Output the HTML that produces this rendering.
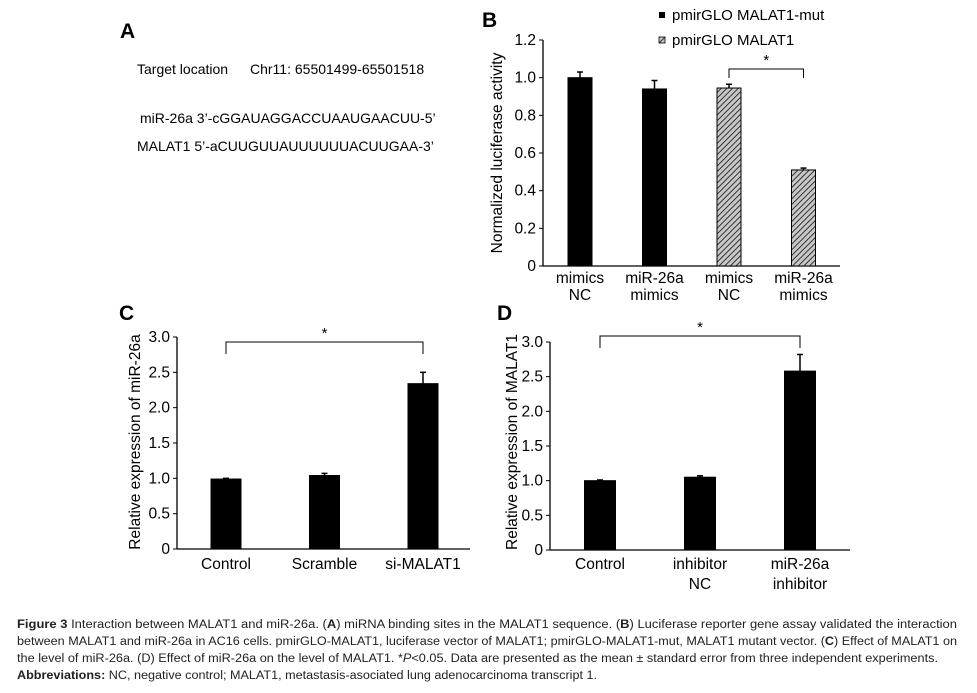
<!DOCTYPE html>
<html><head><meta charset="utf-8"><style>
html,body{margin:0;padding:0;background:#fff;}
svg{display:block;font-family:"Liberation Sans",Arial,sans-serif;}
</style></head><body>
<svg id="fig" width="977" height="693" viewBox="0 0 977 693" xmlns="http://www.w3.org/2000/svg">
<defs>
<pattern id="hatch" width="4" height="4" patternUnits="userSpaceOnUse" patternTransform="rotate(45)">
<rect width="4" height="4" fill="#c8c8c8"/><line x1="0" y1="0" x2="0" y2="4" stroke="#222" stroke-width="1.8"/>
</pattern>
</defs>
<g>
<text x="120" y="38" font-size="21" font-weight="bold">A</text>
<text x="137" y="74" font-size="14">Target location</text>
<text x="250" y="74" font-size="14">Chr11: 65501499-65501518</text>
<text x="140" y="123" font-size="14">miR-26a 3’-cGGAUAGGACCUAAUGAACUU-5’</text>
<text x="137" y="151" font-size="14">MALAT1 5’-aCUUGUUAUUUUUUACUUGAA-3’</text>
</g>
<g id="pB"></g>
<g id="pC"></g>
<g id="pD"></g>
<g font-size="11.5" fill="#222">
<text x="17" y="628" textLength="940" lengthAdjust="spacingAndGlyphs"><tspan font-weight="bold">Figure 3</tspan> Interaction between MALAT1 and miR-26a. (<tspan font-weight="bold">A</tspan>) miRNA binding sites in the MALAT1 sequence. (<tspan font-weight="bold">B</tspan>) Luciferase reporter gene assay validated the interaction</text>
<text x="17" y="645" textLength="940" lengthAdjust="spacingAndGlyphs">between MALAT1 and miR-26a in AC16 cells. pmirGLO-MALAT1, luciferase vector of MALAT1; pmirGLO-MALAT1-mut, MALAT1 mutant vector. (<tspan font-weight="bold">C</tspan>) Effect of MALAT1 on</text>
<text x="17" y="662" textLength="921" lengthAdjust="spacingAndGlyphs">the level of miR-26a. (D) Effect of miR-26a on the level of MALAT1. *<tspan font-style="italic">P</tspan>&lt;0.05. Data are presented as the mean ± standard error from three independent experiments.</text>
<text x="17" y="679" textLength="580" lengthAdjust="spacingAndGlyphs"><tspan font-weight="bold">Abbreviations:</tspan> NC, negative control; MALAT1, metastasis-asociated lung adenocarcinoma transcript 1.</text>
</g>
</svg>
<script>
// Panel B data
const bCategories = [["mimics","NC"],["miR-26a","mimics"],["mimics","NC"],["miR-26a","mimics"]];
const bValues = [1.0, 0.94, 0.945, 0.51];
const bErrors = [0.03, 0.045, 0.02, 0.01];
const bSeries = ["mut","mut","wt","wt"];
const bTicks = ["0","0.2","0.4","0.6","0.8","1.0","1.2"];
const bTickValues = [0,0.2,0.4,0.6,0.8,1.0,1.2];
// Panel C data
const cCategories = [["Control"],["Scramble"],["si-MALAT1"]];
const cValues = [0.99, 1.04, 2.34];
const cErrors = [0.01, 0.03, 0.16];
const cTicks = ["0","0.5","1.0","1.5","2.0","2.5","3.0"];
const cTickValues = [0,0.5,1,1.5,2,2.5,3];
// Panel D data
const dCategories = [["Control"],["inhibitor","NC"],["miR-26a","inhibitor"]];
const dValues = [1.0, 1.05, 2.58];
const dErrors = [0.01, 0.02, 0.24];
const dTicks = ["0","0.5","1.0","1.5","2.0","2.5","3.0"];
const dTickValues = [0,0.5,1,1.5,2,2.5,3];

const NS="http://www.w3.org/2000/svg";
function mk(parent,tag,attrs,txt){const e=document.createElementNS(NS,tag);for(const k in attrs)e.setAttribute(k,attrs[k]);if(txt!==undefined)e.textContent=txt;parent.appendChild(e);return e;}

function drawPanel(g,cfg){
  const y=v=>cfg.y0-(v/cfg.ymax)*(cfg.y0-cfg.ytop);
  const x=i=>cfg.x0+cfg.first+i*cfg.step;
  const axY=mk(g,'line',{x1:cfg.x0,y1:cfg.ytop,x2:cfg.x0,y2:cfg.y0,stroke:'#000','stroke-width':1.3});
  
  
  const axX=mk(g,'line',{x1:cfg.x0,y1:cfg.y0,x2:cfg.x1,y2:cfg.y0,stroke:'#000','stroke-width':1.3});
  
  
  cfg.tickValues.forEach((tv,i)=>{
    const t=mk(g,'line',{x1:cfg.x0-4,y1:y(tv),x2:cfg.x0,y2:y(tv),stroke:'#000','stroke-width':1});
    
    
    const l=mk(g,'text',{x:cfg.x0-7,y:y(tv)+5,'font-size':15.5,'text-anchor':'end'},cfg.ticks[i]);
    
    
  });
  const tt=mk(g,'text',{x:0,y:0,'font-size':15.5,'text-anchor':'middle',transform:`translate(${cfg.titleX},${cfg.titleY}) rotate(-90)`},cfg.title);
  
  
  cfg.values.forEach((v,i)=>{
    const cx=x(i);
    const fill=(cfg.series&&cfg.series[i]==='wt')?'url(#hatch)':'#000';
    const b=mk(g,'rect',{x:cx-cfg.bw/2,y:y(v),width:cfg.bw,height:cfg.y0-y(v),fill:fill,stroke:'#000','stroke-width':1});
    
    
    const ye=y(v+cfg.errors[i]);
    const e1=mk(g,'line',{x1:cx,y1:y(v),x2:cx,y2:ye,stroke:'#000','stroke-width':1.5});
    
    
    const e2=mk(g,'line',{x1:cx-3,y1:ye,x2:cx+3,y2:ye,stroke:'#000','stroke-width':1.5});
    
    
    cfg.cats[i].forEach((s,j)=>{
      const l=mk(g,'text',{x:cx,y:cfg.labelY+j*cfg.labelDy,'font-size':15.5,'text-anchor':'middle'},s);
      
      
    });
  });
  const [a,b2]=cfg.sig;
  const br=mk(g,'path',{d:`M${x(a)},${cfg.sigY+cfg.sigDrop} V${cfg.sigY} H${x(b2)} V${cfg.sigY+cfg.sigDrop}`,fill:'none',stroke:'#000','stroke-width':1});
  
  
  const st=mk(g,'text',{x:(x(a)+x(b2))/2,y:cfg.sigY-4,'font-size':15,'text-anchor':'middle'},'*');
  
  
  const pl=mk(g,'text',{x:cfg.letterX,y:cfg.letterY,'font-size':21,'font-weight':'bold'},cfg.letter);
  
  
}

drawPanel(document.getElementById('pB'),{x0:543,x1:840,ytop:40,y0:266,ymax:1.2,first:37,step:74.5,bw:24,
  values:bValues,errors:bErrors,series:bSeries,cats:bCategories,ticks:bTicks,tickValues:bTickValues,
  title:'Normalized luciferase activity',titleX:502,titleY:153,labelY:283,labelDy:17,
  sig:[2,3],sigY:69,sigDrop:9,letter:'B',letterX:482,letterY:27});
drawPanel(document.getElementById('pC'),{x0:177,x1:470,ytop:337,y0:549,ymax:3,first:49,step:98.5,bw:30,
  values:cValues,errors:cErrors,cats:cCategories,ticks:cTicks,tickValues:cTickValues,
  title:'Relative expression of miR-26a',titleX:140,titleY:442,labelY:569,labelDy:17,
  sig:[0,2],sigY:342,sigDrop:12,letter:'C',letterX:119,letterY:320});
drawPanel(document.getElementById('pD'),{x0:550,x1:850,ytop:342,y0:550,ymax:3,first:50,step:100,bw:31,
  values:dValues,errors:dErrors,cats:dCategories,ticks:dTicks,tickValues:dTickValues,
  title:'Relative expression of MALAT1',titleX:517,titleY:442,labelY:569,labelDy:20,
  sig:[0,2],sigY:336,sigDrop:12,letter:'D',letterX:497,letterY:320});

// Legend for panel B
const lg=document.getElementById('pB');
const s1=mk(lg,'rect',{x:659,y:12,width:6,height:6,fill:'#000'});


const t1=mk(lg,'text',{x:672,y:20,'font-size':15},'pmirGLO MALAT1-mut');


const s2=mk(lg,'rect',{x:659,y:37,width:6,height:6,fill:'url(#hatch)',stroke:'#000','stroke-width':0.8});


const t2=mk(lg,'text',{x:672,y:45,'font-size':15},'pmirGLO MALAT1');


</script>
</body></html>
